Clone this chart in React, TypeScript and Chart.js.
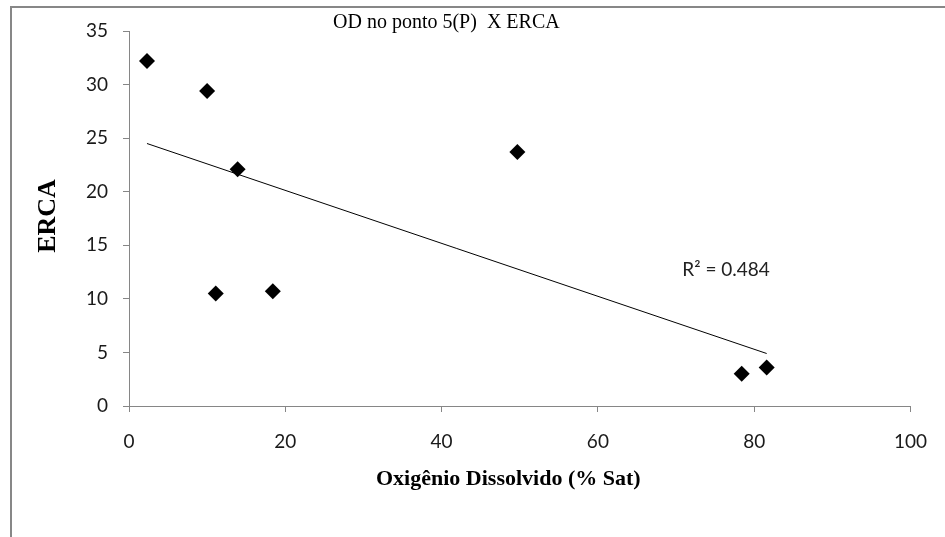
import React, { useEffect, useRef } from "react";
import { Chart, registerables } from "chart.js";

Chart.register(...registerables);

// Data
const odValues = [2.3, 10.0, 13.9, 11.1, 18.4, 49.7, 78.4, 81.6];
const ercaValues = [32.2, 29.4, 22.1, 10.5, 10.7, 23.7, 3.0, 3.6];
const trendX = [2.3, 81.6];
const trendY = [24.5, 4.9];
const xTicks = [0, 20, 40, 60, 80, 100];
const yTicks = [0, 5, 10, 15, 20, 25, 30, 35];
const r2Label = "R² = 0.484";
const r2Anchor = [70.8, 12.7];
const chartTitle = "OD no ponto 5(P)  X ERCA";
const xTitle = "Oxigênio Dissolvido (% Sat)";
const yTitle = "ERCA";

const W = 945;
const H = 537;
const AXIS = "#868686";
const SANS = "Lato, 'Open Sans', sans-serif";
const SERIF = "'Liberation Serif', 'DejaVu Serif', serif";

const textPlugin = {
  id: "textPlugin",
  afterDraw(chart: any) {
    const ctx = chart.ctx;
    const xs = chart.scales.x;
    const ys = chart.scales.y;
    ctx.save();
    ctx.fillStyle = "#000";
    // title
    ctx.font = `20px ${SERIF}`;
    ctx.textAlign = "left";
    ctx.textBaseline = "alphabetic";
    ctx.fillText(chartTitle, 333, 28);
    // R² label
    ctx.font = `19px ${SANS}`;
    ctx.textBaseline = "middle";
    ctx.fillStyle = "#222";
    ctx.fillText(r2Label, xs.getPixelForValue(r2Anchor[0]), ys.getPixelForValue(r2Anchor[1]));
    // x title
    ctx.fillStyle = "#000";
    ctx.font = `bold 22px ${SERIF}`;
    ctx.textBaseline = "alphabetic";
    ctx.textAlign = "left";
    ctx.fillText(xTitle, 376, 485);
    // y title
    ctx.translate(48, 216);
    ctx.rotate(-Math.PI / 2);
    ctx.font = `bold 26px ${SERIF}`;
    ctx.textAlign = "center";
    ctx.textBaseline = "middle";
    ctx.fillText(yTitle, 0, 0);
    ctx.restore();
  },
};

export default function App() {
  const ref = useRef<HTMLCanvasElement | null>(null);
  useEffect(() => {
    if (!ref.current) return;
    const chart = new Chart(ref.current, {
      type: "scatter",
      data: {
        datasets: [
          {
            type: "scatter",
            data: odValues.map((x, i) => ({ x, y: ercaValues[i] })),
            pointStyle: "rectRot",
            pointRadius: 8,
            pointHoverRadius: 8,
            backgroundColor: "#000",
            borderColor: "#000",
            borderWidth: 0,
          },
          {
            type: "line",
            data: trendX.map((x, i) => ({ x, y: trendY[i] })),
            borderColor: "#000",
            borderWidth: 1,
            pointRadius: 0,
            fill: false,
          } as any,
        ],
      },
      options: {
        animation: false,
        responsive: false,
        devicePixelRatio: 1,
        layout: { padding: { top: 31, right: 31, bottom: 0, left: 0 } },
        plugins: { legend: { display: false }, tooltip: { enabled: false }, title: { display: false } },
        scales: {
          x: {
            type: "linear",
            min: 0,
            max: 100,
            afterFit: (s: any) => { s.height = 131; },
            afterBuildTicks: (s: any) => { s.ticks = xTicks.map((v) => ({ value: v })); },
            ticks: { font: { family: SANS, size: 19 }, color: "#1a1a1a", padding: 18, maxRotation: 0 },
            grid: { display: true, drawOnChartArea: false, drawTicks: true, tickLength: 6, color: AXIS },
            border: { display: true, color: AXIS, width: 1 },
          },
          y: {
            type: "linear",
            min: 0,
            max: 35,
            afterFit: (s: any) => { s.width = 129; },
            afterBuildTicks: (s: any) => { s.ticks = yTicks.map((v) => ({ value: v })); },
            ticks: { font: { family: SANS, size: 19 }, color: "#1a1a1a", padding: 15 },
            grid: { display: true, drawOnChartArea: false, drawTicks: true, tickLength: 6, color: AXIS },
            border: { display: true, color: AXIS, width: 1 },
          },
        },
      },
      plugins: [textPlugin],
    } as any);
    return () => chart.destroy();
  }, []);

  return (
    <div style={{ position: "fixed", left: 0, top: 0, width: W, height: H, overflow: "hidden", background: "#fff" }}>
      <div
        style={{
          position: "absolute",
          left: 10,
          top: 6,
          width: 2000,
          height: 2000,
          borderTop: "2px solid #878787",
          borderLeft: "2px solid #878787",
        }}
      />
      <canvas ref={ref} width={W} height={H} style={{ position: "absolute", left: 0, top: 0, width: W, height: H }} />
    </div>
  );
}
